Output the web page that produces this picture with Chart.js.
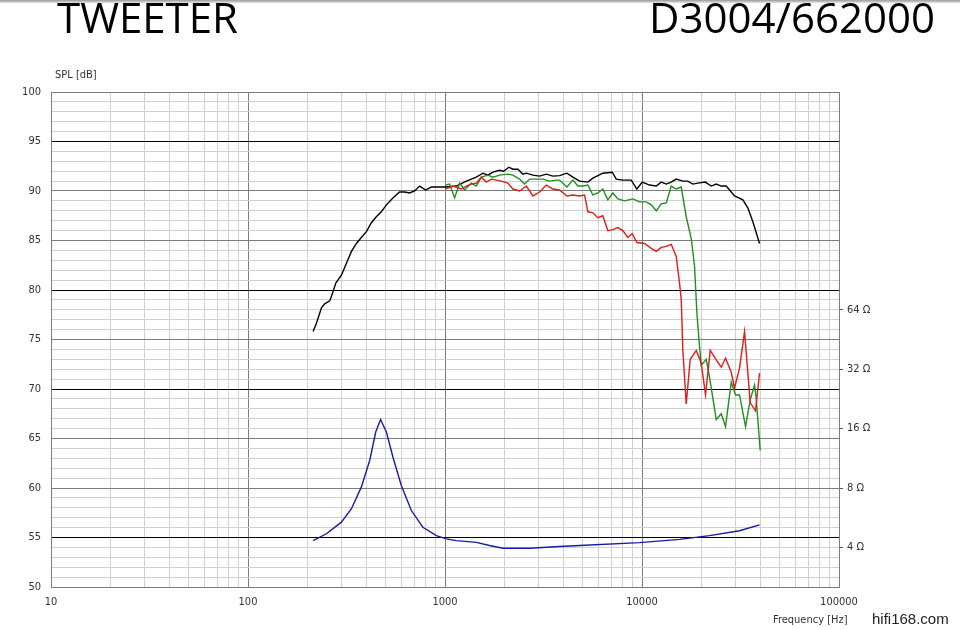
<!DOCTYPE html>
<html><head><meta charset="utf-8">
<script src="https://cdn.jsdelivr.net/npm/chart.js@4.4.1/dist/chart.umd.min.js"></script>
<style>
html,body{margin:0;padding:0;background:#fff;}
#wrap{position:relative;width:960px;height:630px;overflow:hidden;background:#fff;}
canvas{position:absolute;left:0;top:0;}
.t{position:absolute;font-family:"Open Sans",sans-serif;font-size:42px;line-height:42px;color:#000;white-space:nowrap;}
.s{position:absolute;font-family:"Liberation Sans Narrow","DejaVu Sans Condensed",sans-serif;font-size:11px;line-height:13px;color:#333;white-space:nowrap;}
</style></head>
<body><div id="wrap">
<div style="position:absolute;left:0;top:0;width:960px;height:3px;background:linear-gradient(#9a9a9a,#e6e6e6);"></div>
<canvas id="c" width="960" height="630"></canvas>
<div class="t" style="left:57px;top:-4px;">TWEETER</div>
<div class="t" style="left:649px;top:-4px;">D3004/662000</div>
<div class="s" style="left:55px;top:68px;">SPL [dB]</div>
<div class="s" style="left:773px;top:613px;">Frequency [Hz]</div>
<div class="s" style="left:872px;top:610px;font-family:'Liberation Sans',Arial,sans-serif;font-size:15px;line-height:17px;color:#222;">hifi168.com</div>
</div>
<script>
// ---- data ----
const blackFreq = [214,222,236,245,260,270,279,298,316,335,355,376,399,423,448,475,504,544,588,624,661,701,743,797,852,904,1003,1141,1283,1442,1557,1651,1751,1893,1984,2110,2211,2344,2485,2586,2794,3021,3267,3528,3815,4156,4458,4822,5312,5630,6329,7063,7402,7993,8818,9417,10030,10922,11813,12523,13280,14074,14920,16120,17090,18120,19210,20940,22460,23810,25250,26770,29490,32500,34450,36530,39510];
const blackSpl = [75.8,76.6,78.2,78.6,78.9,79.8,80.7,81.5,82.7,83.9,84.7,85.3,85.9,86.8,87.4,87.9,88.6,89.3,89.9,89.9,89.8,90.0,90.5,90.1,90.4,90.4,90.4,90.5,91.0,91.4,91.8,91.6,91.9,92.1,92.0,92.4,92.2,92.2,91.7,91.8,91.6,91.5,91.7,91.5,91.55,91.8,91.4,91.0,90.9,91.3,91.8,91.9,91.2,91.1,91.1,90.2,90.9,90.6,90.5,90.9,90.7,90.9,91.2,91.0,91.0,90.7,90.8,90.9,90.5,90.7,90.5,90.5,89.5,89.1,88.3,86.9,84.7];

const greenFreq = [1003,1055,1119,1186,1258,1360,1442,1529,1651,1751,1893,2085,2211,2391,2535,2688,2907,3140,3395,3671,3815,4156,4458,4727,5011,5312,5630,5969,6329,6710,7114,7541,8155,8987,9719,10510,11140,11813,12523,13280,14074,14920,15820,16770,17780,18480,18990,19590,19980,21190,22020,23810,25250,26550,28380,29850,31260,33540,35430,37260,38010,39810];
const greenSpl = [90.6,90.7,89.3,90.8,90.1,90.8,90.5,91.4,91.6,91.4,91.6,91.7,91.6,91.2,90.7,91.2,91.2,91.2,91.0,91.1,91.1,90.4,91.1,90.5,90.5,90.6,89.6,89.8,90.2,89.1,89.8,89.2,89.0,89.2,88.9,88.9,88.6,88.0,88.7,88.8,90.5,90.2,90.4,87.4,85.2,82.4,77.7,74.3,72.4,73.0,71.2,66.9,67.5,66.2,70.7,69.4,69.4,66.2,68.9,70.4,69.0,63.8];

const redFreq = [1003,1097,1210,1283,1360,1442,1529,1620,1718,1821,1931,2085,2211,2391,2586,2794,3021,3267,3528,3815,4156,4458,4822,5111,5312,5630,5969,6329,6710,7114,7541,7993,8475,8923,9417,10300,11140,11813,12523,13280,14074,14920,15510,15820,16120,16770,17570,18860,19980,21010,22200,24260,25250,26550,28380,29490,31260,33160,35430,37670,39510];
const redSpl = [90.2,90.5,90.2,90.5,90.7,90.8,91.4,90.9,91.2,91.1,91.0,90.8,90.2,90.0,90.5,89.5,89.9,90.6,90.2,90.1,89.5,89.6,89.5,89.6,87.9,87.8,87.3,87.5,86.0,86.1,86.3,86.0,85.3,85.7,84.8,84.7,84.2,83.9,84.3,84.4,84.6,83.4,80.7,79.0,73.9,68.5,73.0,73.9,72.6,69.4,73.9,72.7,72.2,73.1,71.7,70.1,72.1,75.8,68.6,67.8,71.6];

const impFreq = [214,250,298,335,376,415,445,471,504,544,600,675,772,904,1015,1141,1442,1684,1967,2688,3815,4822,9719,15510,22020,31260,39510];
const impOhm  = [4.33,4.69,5.37,6.28,8.08,11.06,15.38,17.8,15.38,11.49,8.24,6.15,5.06,4.59,4.42,4.33,4.24,4.09,3.96,3.96,4.04,4.09,4.23,4.39,4.59,4.86,5.2];

const freqDecadeLabels = [10,100,1000,10000,100000];
const splLabelStep = 5;
const splBlackLines = [95,80,70,55];
const ohmTicks = [4,8,16,32,64];
// impedance axis: 4 ohm at 54 dB, 6 dB per doubling
const ohmMin = 4*Math.pow(2,(50-54)/6);
const ohmMax = 4*Math.pow(2,(100-54)/6);

const freqGrid = [];
for (let d=10; d<100000; d*=10) for (let n=1;n<10;n++) freqGrid.push(n*d);
freqGrid.push(100000);

const zip = (xs, ys) => xs.map((x,i)=>({x:x, y:ys[i]}));
const tickFont = {family:"'Liberation Sans Narrow','DejaVu Sans Condensed',sans-serif", size:11};

new Chart(document.getElementById('c').getContext('2d'), {
  type:'line',
  data:{datasets:[
    {data:zip(impFreq,impOhm), yAxisID:'y2', borderColor:'#1a1aa8', borderWidth:1.4},
    {data:zip(redFreq,redSpl), yAxisID:'y', borderColor:'#e21b1b', borderWidth:1.4},
    {data:zip(greenFreq,greenSpl), yAxisID:'y', borderColor:'#1f8f1f', borderWidth:1.4},
    {data:zip(blackFreq,blackSpl), yAxisID:'y', borderColor:'#000000', borderWidth:1.4}
  ]},
  options:{
    responsive:false, animation:false, devicePixelRatio:1,
    layout:{padding:{top:92,left:0,right:0,bottom:0}},
    plugins:{legend:{display:false}, tooltip:{enabled:false}},
    elements:{point:{radius:0}, line:{tension:0}},
    scales:{
      x:{type:'logarithmic', position:'bottom', min:10, max:100000, bounds:'data',
        afterBuildTicks:s=>{ s.ticks = freqGrid.map(v=>({value:v})); },
        afterFit:s=>{ s.height = 43; },
        ticks:{autoSkip:false, maxRotation:0, minRotation:0, padding:9, color:'#333', font:tickFont,
          callback:v=> freqDecadeLabels.includes(v) ? String(v) : ''},
        grid:{drawTicks:false, lineWidth:1,
          color:c=> freqDecadeLabels.includes(c.tick && c.tick.value) ? '#7c7c7c' : '#d0d0d0'},
        border:{color:'#7c7c7c'}
      },
      y:{type:'linear', position:'left', min:50, max:100,
        afterFit:s=>{ s.width = 51; },
        ticks:{stepSize:1, autoSkip:false, padding:10, color:'#333', font:tickFont,
          callback:v=> v % splLabelStep === 0 ? String(v) : ''},
        grid:{drawTicks:false, lineWidth:1,
          color:c=>{ const v=c.tick && c.tick.value;
            if (splBlackLines.includes(v)) return '#000000';
            if (v % splLabelStep === 0) return '#7c7c7c';
            return '#d0d0d0'; }},
        border:{color:'#7c7c7c'}
      },
      y2:{type:'logarithmic', position:'right', min:ohmMin, max:ohmMax, bounds:'data',
        afterBuildTicks:s=>{ s.ticks = ohmTicks.map(v=>({value:v})); },
        afterFit:s=>{ s.width = 121; },
        ticks:{autoSkip:false, padding:4, color:'#333', font:tickFont,
          callback:v=> v + ' \u03A9'},
        grid:{drawOnChartArea:false, drawTicks:true, tickLength:4, color:'#555'},
        border:{color:'#7c7c7c'}
      }
    }
  }
});
</script>
</body></html>
